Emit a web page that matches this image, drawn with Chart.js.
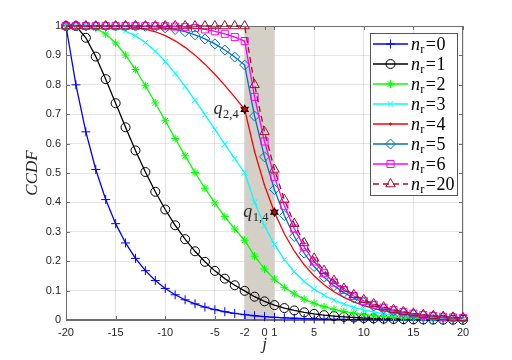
<!DOCTYPE html>
<html>
<head>
<meta charset="utf-8">
<script src="https://cdn.jsdelivr.net/npm/chart.js@4/dist/chart.umd.min.js"></script>
<style>
  html, body { margin: 0; padding: 0; background: #fff; }
</style>
</head>
<body>
<canvas id="ccdf" width="512" height="360"></canvas>
<script>
// x positions (j) and tick labels
const J = [-20, -19, -18, -17, -16, -15, -14, -13, -12, -11, -10, -9, -8, -7, -6, -5, -4, -3, -2, -1,
  0, 1, 2, 3, 4, 5, 6, 7, 8, 9, 10, 11, 12, 13, 14, 15, 16, 17, 18, 19, 20];
const X_TICKS = [-20, -15, -10, -5, -2, 0, 1, 5, 10, 15, 20];
const Y_TICKS = [0, 0.1, 0.2, 0.3, 0.4, 0.5, 0.6, 0.7, 0.8, 0.9, 1];
const SHADE = [-2, 1];

// CCDF values, one array per n_r
const N0 = [1, 0.8, 0.64, 0.512, 0.4096, 0.3277, 0.2621, 0.2097, 0.1678, 0.1342, 0.1074, 0.0859, 0.0687,
  0.055, 0.044, 0.0352, 0.0281, 0.0225, 0.018, 0.0144, 0.0115, 0.0092, 0.0074, 0.0059, 0.0047, 0.0038,
  0.003, 0.0024, 0.0019, 0.0015, 0.0012, 0.001, 0.0008, 0.0006, 0.0005, 0.0004, 0.0003, 0.0003, 0.0002,
  0.0002, 0.0001];
const N1 = [1, 1, 0.96, 0.896, 0.8192, 0.7373, 0.6554, 0.5767, 0.5033, 0.4362, 0.3758, 0.3221, 0.2749,
  0.2337, 0.1979, 0.1671, 0.1407, 0.1182, 0.0991, 0.0793, 0.0634, 0.0507, 0.0406, 0.0325, 0.026, 0.0208,
  0.0166, 0.0133, 0.0106, 0.0085, 0.0068, 0.0055, 0.0044, 0.0035, 0.0028, 0.0022, 0.0018, 0.0014, 0.0011,
  0.0009, 0.0007];
const N2 = [1, 1, 1, 0.992, 0.9728, 0.9421, 0.9011, 0.852, 0.7969, 0.7382, 0.6778, 0.6174, 0.5584,
  0.5017, 0.4481, 0.398, 0.3518, 0.3096, 0.2713, 0.2171, 0.1737, 0.1389, 0.1111, 0.0889, 0.0711, 0.0569,
  0.0455, 0.0364, 0.0291, 0.0233, 0.0187, 0.0149, 0.0119, 0.0095, 0.0076, 0.0061, 0.0049, 0.0039, 0.0031,
  0.0025, 0.002];
const N3 = [1, 1, 1, 1, 0.9984, 0.9933, 0.983, 0.9667, 0.9437, 0.9144, 0.8791, 0.8389, 0.7946,
  0.7473, 0.6982, 0.6482, 0.5981, 0.5489, 0.501, 0.4008, 0.3207, 0.2565, 0.2052, 0.1642, 0.1313, 0.1051,
  0.0841, 0.0673, 0.0538, 0.043, 0.0344, 0.0275, 0.022, 0.0176, 0.0141, 0.0113, 0.009, 0.0072, 0.0058,
  0.0046, 0.0037];
const N4 = [1, 1, 1, 1, 1, 0.9997, 0.9984, 0.9953, 0.9896, 0.9804, 0.9672, 0.9496, 0.9274,
  0.9009, 0.8702, 0.8358, 0.7982, 0.7582, 0.7164, 0.5731, 0.4585, 0.3668, 0.2934, 0.2347, 0.1878, 0.1502,
  0.1202, 0.0962, 0.0769, 0.0615, 0.0492, 0.0394, 0.0315, 0.0252, 0.0202, 0.0161, 0.0129, 0.0103, 0.0083,
  0.0066, 0.0053];
const N5 = [1, 1, 1, 1, 1, 1, 0.9999, 0.9996, 0.9988, 0.9969, 0.9936, 0.9883, 0.9806,
  0.97, 0.9561, 0.939, 0.9183, 0.8943, 0.8671, 0.6937, 0.5549, 0.4439, 0.3552, 0.2841, 0.2273, 0.1818,
  0.1455, 0.1164, 0.0931, 0.0745, 0.0596, 0.0477, 0.0381, 0.0305, 0.0244, 0.0195, 0.0156, 0.0125, 0.01,
  0.008, 0.0064];
const N6 = [1, 1, 1, 1, 1, 1, 1, 1, 0.9999, 0.9997, 0.9991, 0.998, 0.9961,
  0.993, 0.9884, 0.9819, 0.9734, 0.9623, 0.9487, 0.759, 0.6072, 0.4858, 0.3886, 0.3109, 0.2487, 0.199,
  0.1592, 0.1273, 0.1019, 0.0815, 0.0652, 0.0522, 0.0417, 0.0334, 0.0267, 0.0214, 0.0171, 0.0137, 0.0109,
  0.0088, 0.007];
const N20 = [1, 1, 1, 1, 1, 1, 1, 1, 1, 1, 1, 1, 1,
  1, 1, 1, 1, 1, 1, 0.8, 0.64, 0.512, 0.4096, 0.3277, 0.2621, 0.2097,
  0.1678, 0.1342, 0.1074, 0.0859, 0.0687, 0.055, 0.044, 0.0352, 0.0281, 0.0225, 0.018, 0.0144, 0.0115,
  0.0092, 0.0074];

const NR = ['0', '1', '2', '3', '4', '5', '6', '20'];
const SERIES = [N0, N1, N2, N3, N4, N5, N6, N20];
// marked quantiles on the n_r=4 curve
const Q_J = [-2, 1];
const Q_SUB = ['2,4', '1,4'];

const STYLES = [
  { color: '#0000ff', shape: 'cross', r: 4.5 },
  { color: '#000000', shape: 'circle', r: 4.5 },
  { color: '#00ff00', shape: 'star', r: 4 },
  { color: '#00ffff', shape: 'crossRot', r: 4 },
  { color: '#ff0000', shape: 'circle', r: 0, legendR: 1 , filled: true },
  { color: '#0072bd', shape: 'rectRot', r: 5 },
  { color: '#ff00ff', shape: 'rect', r: 5 },
  { color: '#a2142f', shape: 'triangle', r: 5.5, dash: [6, 4] }
];

const TXT = '#262626';
const FRAME = '#6e6e6e';
const SERIF = '"Liberation Serif", "DejaVu Serif", serif';

const datasets = SERIES.map((vals, i) => {
  const s = STYLES[i];
  const fill = s.filled ? s.color : 'rgba(0,0,0,0)';
  return {
    label: 'n_r=' + NR[i],
    data: vals.map((v, k) => ({ x: J[k], y: v })),
    borderColor: s.color,
    backgroundColor: fill,
    pointBackgroundColor: fill,
    pointBorderColor: s.color,
    pointStyle: s.shape,
    pointRadius: s.r,
    pointHoverRadius: s.r,
    pointBorderWidth: 1,
    borderWidth: 1.3,
    borderDash: s.dash || [],
    tension: 0,
    fill: false,
    clip: 8,
    order: 8 - i
  };
});

function richText(ctx, parts, x, y, align) {
  let w = 0;
  parts.forEach(p => { ctx.font = p.font; w += ctx.measureText(p.t).width + (p.gap || 0); });
  let cx = align === 'right' ? x - w : x;
  parts.forEach(p => {
    ctx.font = p.font;
    ctx.fillText(p.t, cx, y + (p.dy || 0));
    cx += ctx.measureText(p.t).width + (p.gap || 0);
  });
}

function hexagram(ctx, x, y, r) {
  ctx.beginPath();
  for (let i = 0; i < 12; i++) {
    const a = -Math.PI / 2 + i * Math.PI / 6;
    const rr = i % 2 ? r * 0.55 : r;
    const px = x + rr * Math.cos(a), py = y + rr * Math.sin(a);
    if (i === 0) ctx.moveTo(px, py); else ctx.lineTo(px, py);
  }
  ctx.closePath();
  ctx.fillStyle = '#e00000';
  ctx.fill();
  ctx.strokeStyle = '#000';
  ctx.lineWidth = 1.1;
  ctx.stroke();
}

const decor = {
  id: 'decor',
  beforeDatasetsDraw(chart) {
    const { ctx, chartArea: a, scales: { x, y } } = chart;
    ctx.save();
    // shaded interval
    const x0 = x.getPixelForValue(SHADE[0]), x1 = x.getPixelForValue(SHADE[1]);
    ctx.fillStyle = '#d4d0c8';
    ctx.fillRect(x0, a.top, x1 - x0, a.bottom - a.top);
    // box
    ctx.strokeStyle = FRAME;
    ctx.lineWidth = 1;
    ctx.strokeRect(Math.round(a.left) + 0.5, Math.round(a.top) + 0.5,
      Math.round(a.right - a.left) - 1, Math.round(a.bottom - a.top) - 1);
    // inward tick marks
    ctx.beginPath();
    X_TICKS.forEach(v => {
      const px = Math.round(x.getPixelForValue(v)) + 0.5;
      ctx.moveTo(px, a.bottom); ctx.lineTo(px, a.bottom - 4);
      ctx.moveTo(px, a.top); ctx.lineTo(px, a.top + 4);
    });
    Y_TICKS.forEach(v => {
      const py = Math.round(y.getPixelForValue(v)) + 0.5;
      ctx.moveTo(a.left, py); ctx.lineTo(a.left + 4, py);
      ctx.moveTo(a.right, py); ctx.lineTo(a.right - 4, py);
    });
    ctx.stroke();
    ctx.restore();
  },
  afterDatasetsDraw(chart) {
    const { ctx, scales: { x, y } } = chart;
    ctx.save();
    // quantile markers and labels on n_r=4
    ctx.textBaseline = 'alphabetic';
    Q_J.forEach((j, i) => {
      const v = N4[J.indexOf(j)];
      const px = x.getPixelForValue(j), py = y.getPixelForValue(v);
      hexagram(ctx, px, py, 4);
      ctx.fillStyle = TXT;
      richText(ctx, [
        { t: 'q', font: 'italic 18px ' + SERIF, gap: 0.5 },
        { t: Q_SUB[i], font: '12.5px ' + SERIF, dy: 4 }
      ], px - 6, py + 5, 'right');
    });

    // legend
    const lx = 370, ly = 33, lw = 87, lh = 162;
    ctx.fillStyle = '#fff';
    ctx.fillRect(lx, ly, lw, lh);
    ctx.strokeStyle = '#555';
    ctx.lineWidth = 1;
    ctx.strokeRect(lx + 0.5, ly + 0.5, lw, lh);
    chart.data.datasets.forEach((ds, i) => {
      const s = STYLES[i];
      const ry = 44 + i * 20;
      ctx.save();
      ctx.strokeStyle = s.color;
      ctx.lineWidth = 1.3;
      ctx.setLineDash(s.dash || []);
      ctx.beginPath();
      ctx.moveTo(373, ry); ctx.lineTo(408, ry);
      ctx.stroke();
      ctx.setLineDash([]);
      ctx.lineWidth = 1;
      ctx.fillStyle = s.filled ? s.color : 'rgba(0,0,0,0)';
      const lr = s.legendR !== undefined ? s.legendR : s.r;
      Chart.helpers.drawPoint(ctx, { pointStyle: s.shape, radius: lr, rotation: 0, borderWidth: 1 }, 390.5, ry);
      ctx.restore();
      ctx.fillStyle = '#000';
      richText(ctx, [
        { t: 'n', font: 'italic 18px ' + SERIF, gap: 0.3 },
        { t: 'r', font: '12.5px ' + SERIF, dy: 3, gap: 1.2 },
        { t: '=', font: '18px ' + SERIF, gap: 0.8 },
        { t: NR[i], font: '18px ' + SERIF }
      ], 411, ry + 6, 'left');
    });
    ctx.restore();
  }
};

new Chart(document.getElementById('ccdf'), {
  type: 'line',
  data: { datasets: datasets },
  options: {
    responsive: false,
    animation: false,
    devicePixelRatio: 1,
    layout: { padding: { left: 0, top: 26, right: 49, bottom: 0 } },
    plugins: { legend: { display: false }, tooltip: { enabled: false } },
    scales: {
      x: {
        type: 'linear',
        min: -20,
        max: 20,
        afterBuildTicks: s => { s.ticks = X_TICKS.map(v => ({ value: v })); },
        afterFit: s => { s.height = 40; },
        ticks: {
          autoSkip: false,
          maxRotation: 0,
          padding: 6,
          color: TXT,
          font: { family: '"Liberation Sans", Arial, sans-serif', size: 11 },
          callback: v => String(v)
        },
        grid: { color: 'rgba(38,38,38,0.12)', drawTicks: false },
        border: { color: FRAME, width: 1 },
        title: {
          display: true,
          text: 'j',
          color: TXT,
          font: { family: SERIF, style: 'italic', size: 17 },
          padding: { top: 0, bottom: 5 }
        }
      },
      y: {
        type: 'linear',
        min: 0,
        max: 1,
        afterBuildTicks: s => { s.ticks = Y_TICKS.map(v => ({ value: v })); },
        afterFit: s => { s.width = 66; },
        ticks: {
          padding: 5,
          color: TXT,
          font: { family: '"Liberation Sans", Arial, sans-serif', size: 11 },
          callback: v => String(v)
        },
        grid: { color: 'rgba(38,38,38,0.12)', drawTicks: false },
        border: { color: FRAME, width: 1 },
        title: {
          display: true,
          text: 'CCDF',
          color: TXT,
          font: { family: SERIF, style: 'italic', size: 17 },
          padding: { top: 22, bottom: 0 }
        }
      }
    }
  },
  plugins: [decor]
});
</script>
</body>
</html>
